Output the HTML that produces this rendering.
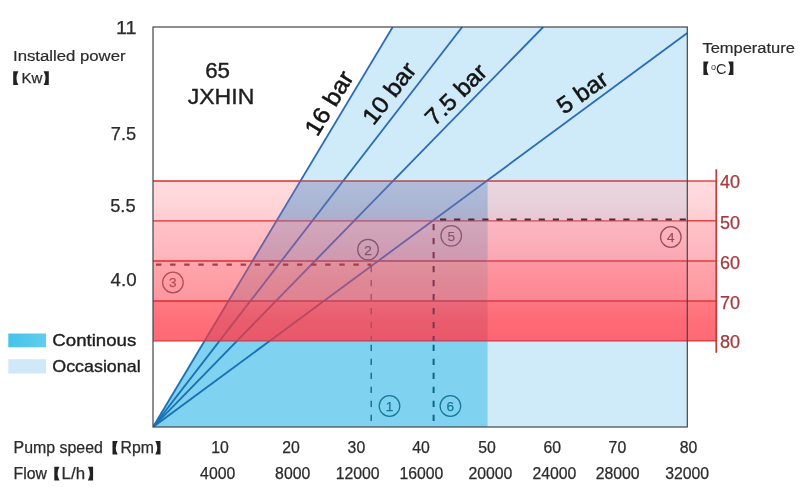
<!DOCTYPE html>
<html><head><meta charset="utf-8"><title>65 JXHIN pump chart</title>
<style>html,body{margin:0;padding:0;background:#fff;}body{width:808px;height:500px;overflow:hidden;font-family:"Liberation Sans",sans-serif;}svg{display:block;filter:blur(0.35px);}text{font-family:"Liberation Sans",sans-serif;}</style>
</head><body>
<svg width="808" height="500" viewBox="0 0 808 500">
<defs>
<clipPath id="b0"><rect x="153.0" y="181.0" width="563.3" height="39.80000000000001"/></clipPath>
<clipPath id="b1"><rect x="153.0" y="220.8" width="563.3" height="40.19999999999999"/></clipPath>
<clipPath id="b2"><rect x="153.0" y="261.0" width="563.3" height="40.0"/></clipPath>
<clipPath id="b3"><rect x="153.0" y="301.0" width="563.3" height="39.80000000000001"/></clipPath>
<clipPath id="bandsAll"><rect x="153.0" y="181.0" width="563.3" height="159.8"/></clipPath>
<clipPath id="above"><rect x="0" y="0" width="808" height="181.0"/></clipPath>
<clipPath id="below"><rect x="0" y="340.8" width="808" height="159.2"/></clipPath>
<clipPath id="plot"><rect x="153.0" y="27.0" width="534.3" height="400.0"/></clipPath>
<linearGradient id="bg" x1="0" x2="0" y1="0" y2="1"><stop offset="0" stop-color="#fff" stop-opacity="0.08"/><stop offset="0.5" stop-color="#fff" stop-opacity="0"/><stop offset="0.5" stop-color="#e8102a" stop-opacity="0"/><stop offset="1" stop-color="#e8102a" stop-opacity="0.055"/></linearGradient>
<linearGradient id="lg1" x1="0" x2="1" y1="0" y2="0"><stop offset="0" stop-color="#45c3ea"/><stop offset="1" stop-color="#63cbee"/></linearGradient>
</defs>
<rect width="808" height="500" fill="#fff"/>
<polygon points="153.0,427.0 392.7,27.0 687.3,27.0 687.3,427.0" fill="#cfeaf8"/>
<polygon points="153.0,427.0 300.42,181.0 487.6,181.0 487.6,427.0" fill="#7fd3f0"/>
<g clip-path="url(#b0)">
<rect x="153.0" y="181.0" width="563.3" height="39.80000000000001" fill="#ffd7da"/>
<polygon points="153.0,427.0 392.7,27.0 687.3,27.0 687.3,427.0" fill="#e8d2dc"/>
<polygon points="153.0,427.0 300.42,181.0 487.6,181.0 487.6,427.0" fill="#aab7d6"/>
<rect x="153.0" y="181.0" width="563.3" height="39.80000000000001" fill="url(#bg)"/>
</g>
<g clip-path="url(#b1)">
<rect x="153.0" y="220.8" width="563.3" height="40.19999999999999" fill="#ffbcc2"/>
<polygon points="153.0,427.0 392.7,27.0 687.3,27.0 687.3,427.0" fill="#fbb0ba"/>
<polygon points="153.0,427.0 300.42,181.0 487.6,181.0 487.6,427.0" fill="#cfa0b6"/>
<rect x="153.0" y="220.8" width="563.3" height="40.19999999999999" fill="url(#bg)"/>
</g>
<g clip-path="url(#b2)">
<rect x="153.0" y="261.0" width="563.3" height="40.0" fill="#ff9ea6"/>
<polygon points="153.0,427.0 392.7,27.0 687.3,27.0 687.3,427.0" fill="#fd8e99"/>
<polygon points="153.0,427.0 300.42,181.0 487.6,181.0 487.6,427.0" fill="#df8896"/>
<rect x="153.0" y="261.0" width="563.3" height="40.0" fill="url(#bg)"/>
</g>
<g clip-path="url(#b3)">
<rect x="153.0" y="301.0" width="563.3" height="39.80000000000001" fill="#ff6f79"/>
<polygon points="153.0,427.0 392.7,27.0 687.3,27.0 687.3,427.0" fill="#fd6a76"/>
<polygon points="153.0,427.0 300.42,181.0 487.6,181.0 487.6,427.0" fill="#e95c6e"/>
<rect x="153.0" y="301.0" width="563.3" height="39.80000000000001" fill="url(#bg)"/>
</g>
<g clip-path="url(#plot)"><g clip-path="url(#above)"><line x1="153.0" y1="427.0" x2="392.7" y2="27.0" stroke="#2c6cb6" stroke-width="1.8"/><line x1="153.0" y1="427.0" x2="462.2" y2="27.0" stroke="#2c6cb6" stroke-width="1.8"/><line x1="153.0" y1="427.0" x2="543.2" y2="27.0" stroke="#2c6cb6" stroke-width="1.8"/><line x1="153.0" y1="427.0" x2="687.3" y2="33.0" stroke="#2c6cb6" stroke-width="1.8"/></g><g clip-path="url(#below)"><line x1="153.0" y1="427.0" x2="392.7" y2="27.0" stroke="#1a72b6" stroke-width="1.9"/><line x1="153.0" y1="427.0" x2="462.2" y2="27.0" stroke="#1a72b6" stroke-width="1.9"/><line x1="153.0" y1="427.0" x2="543.2" y2="27.0" stroke="#1a72b6" stroke-width="1.9"/><line x1="153.0" y1="427.0" x2="687.3" y2="33.0" stroke="#1a72b6" stroke-width="1.9"/></g>
<g clip-path="url(#b0)"><line x1="153.0" y1="427.0" x2="392.7" y2="27.0" stroke="#4f6db2" stroke-width="1.8"/><line x1="153.0" y1="427.0" x2="462.2" y2="27.0" stroke="#4f6db2" stroke-width="1.8"/><line x1="153.0" y1="427.0" x2="543.2" y2="27.0" stroke="#4f6db2" stroke-width="1.8"/><line x1="153.0" y1="427.0" x2="687.3" y2="33.0" stroke="#4f6db2" stroke-width="1.8"/></g>
<g clip-path="url(#b1)"><line x1="153.0" y1="427.0" x2="392.7" y2="27.0" stroke="#6b62a6" stroke-width="1.8"/><line x1="153.0" y1="427.0" x2="462.2" y2="27.0" stroke="#6b62a6" stroke-width="1.8"/><line x1="153.0" y1="427.0" x2="543.2" y2="27.0" stroke="#6b62a6" stroke-width="1.8"/><line x1="153.0" y1="427.0" x2="687.3" y2="33.0" stroke="#6b62a6" stroke-width="1.8"/></g>
<g clip-path="url(#b2)"><line x1="153.0" y1="427.0" x2="392.7" y2="27.0" stroke="#8e5a90" stroke-width="1.8"/><line x1="153.0" y1="427.0" x2="462.2" y2="27.0" stroke="#8e5a90" stroke-width="1.8"/><line x1="153.0" y1="427.0" x2="543.2" y2="27.0" stroke="#8e5a90" stroke-width="1.8"/><line x1="153.0" y1="427.0" x2="687.3" y2="33.0" stroke="#8e5a90" stroke-width="1.8"/></g>
<g clip-path="url(#b3)"><line x1="153.0" y1="427.0" x2="392.7" y2="27.0" stroke="#b8485f" stroke-width="1.8"/><line x1="153.0" y1="427.0" x2="462.2" y2="27.0" stroke="#b8485f" stroke-width="1.8"/><line x1="153.0" y1="427.0" x2="543.2" y2="27.0" stroke="#b8485f" stroke-width="1.8"/><line x1="153.0" y1="427.0" x2="687.3" y2="33.0" stroke="#b8485f" stroke-width="1.8"/></g>
</g>
<line x1="153.0" y1="181.0" x2="300.42" y2="181.0" stroke="#dc2c2c" stroke-width="1.3"/>
<line x1="300.42" y1="181.0" x2="487.6" y2="181.0" stroke="#b24a50" stroke-width="1.3"/>
<line x1="487.6" y1="181.0" x2="687.3" y2="181.0" stroke="#d23a44" stroke-width="1.3"/>
<line x1="687.3" y1="181.0" x2="716.3" y2="181.0" stroke="#dc2c2c" stroke-width="1.3"/>
<line x1="153.0" y1="220.8" x2="276.57" y2="220.8" stroke="#dc2c2c" stroke-width="1.3"/>
<line x1="276.57" y1="220.8" x2="487.6" y2="220.8" stroke="#a8506c" stroke-width="1.3"/>
<line x1="487.6" y1="220.8" x2="687.3" y2="220.8" stroke="#d84654" stroke-width="1.3"/>
<line x1="687.3" y1="220.8" x2="716.3" y2="220.8" stroke="#dc2c2c" stroke-width="1.3"/>
<line x1="153.0" y1="261.0" x2="252.48" y2="261.0" stroke="#dc2c2c" stroke-width="1.3"/>
<line x1="252.48" y1="261.0" x2="487.6" y2="261.0" stroke="#b04a64" stroke-width="1.3"/>
<line x1="487.6" y1="261.0" x2="687.3" y2="261.0" stroke="#dc4050" stroke-width="1.3"/>
<line x1="687.3" y1="261.0" x2="716.3" y2="261.0" stroke="#dc2c2c" stroke-width="1.3"/>
<line x1="153.0" y1="301.0" x2="228.51" y2="301.0" stroke="#dc2c2c" stroke-width="1.3"/>
<line x1="228.51" y1="301.0" x2="487.6" y2="301.0" stroke="#c04056" stroke-width="1.3"/>
<line x1="487.6" y1="301.0" x2="687.3" y2="301.0" stroke="#e03848" stroke-width="1.3"/>
<line x1="687.3" y1="301.0" x2="716.3" y2="301.0" stroke="#dc2c2c" stroke-width="1.3"/>
<line x1="153.0" y1="340.8" x2="204.66" y2="340.8" stroke="#dc2c2c" stroke-width="1.3"/>
<line x1="204.66" y1="340.8" x2="487.6" y2="340.8" stroke="#c43c50" stroke-width="1.3"/>
<line x1="487.6" y1="340.8" x2="687.3" y2="340.8" stroke="#d83444" stroke-width="1.3"/>
<line x1="687.3" y1="340.8" x2="716.3" y2="340.8" stroke="#dc2c2c" stroke-width="1.3"/>
<line x1="156.0" y1="264.6" x2="371.2" y2="264.6" stroke="#ac3a4e" stroke-width="2.1" stroke-dasharray="5.4 8.7"/>
<line x1="440" y1="219.4" x2="687.3" y2="219.4" stroke="#4a2a35" stroke-width="2" stroke-dasharray="6.2 7.9"/>
<line x1="371.2" y1="266" x2="371.2" y2="340.8" stroke="#a04a62" stroke-width="1.2" stroke-dasharray="6.3 7.7"/>
<line x1="371.2" y1="344.8" x2="371.2" y2="427.0" stroke="#0f6c8e" stroke-width="1.4" stroke-dasharray="6.3 7.7"/>
<line x1="433.6" y1="224" x2="433.6" y2="340.8" stroke="#7c3654" stroke-width="2" stroke-dasharray="6.3 7.7"/>
<line x1="433.6" y1="344.8" x2="433.6" y2="427.0" stroke="#0c6486" stroke-width="2" stroke-dasharray="6.3 7.7"/>
<rect x="153.0" y="27.0" width="534.3" height="400.0" fill="none" stroke="#42464a" stroke-width="1.2"/>
<line x1="716.3" y1="169.3" x2="716.3" y2="352.8" stroke="#c0383a" stroke-width="1.7"/>
<circle cx="389.5" cy="406" r="10.3" fill="none" stroke="#15789b" stroke-width="1.25"/>
<text x="389.5" y="410.90" font-size="13.6" text-anchor="middle" fill="#15789b" stroke="#15789b" stroke-width="0.25">1</text>
<circle cx="450.4" cy="406" r="10.3" fill="none" stroke="#15789b" stroke-width="1.25"/>
<text x="450.4" y="410.90" font-size="13.6" text-anchor="middle" fill="#15789b" stroke="#15789b" stroke-width="0.25">6</text>
<circle cx="368" cy="249.6" r="10.3" fill="none" stroke="#7f5570" stroke-width="1.25"/>
<text x="368" y="254.50" font-size="13.6" text-anchor="middle" fill="#7f5570" stroke="#7f5570" stroke-width="0.25">2</text>
<circle cx="172.9" cy="282.5" r="10.3" fill="none" stroke="#b84a55" stroke-width="1.25"/>
<text x="172.9" y="287.40" font-size="13.6" text-anchor="middle" fill="#b84a55" stroke="#b84a55" stroke-width="0.25">3</text>
<circle cx="451.2" cy="235.8" r="10.3" fill="none" stroke="#8e5670" stroke-width="1.25"/>
<text x="451.2" y="240.70" font-size="13.6" text-anchor="middle" fill="#8e5670" stroke="#8e5670" stroke-width="0.25">5</text>
<circle cx="670.8" cy="237" r="10.3" fill="none" stroke="#9c4a5c" stroke-width="1.25"/>
<text x="670.8" y="241.90" font-size="13.6" text-anchor="middle" fill="#9c4a5c" stroke="#9c4a5c" stroke-width="0.25">4</text>
<text x="136.6" y="34" font-size="18" text-anchor="end" fill="#2b2b2b" stroke="#2b2b2b" stroke-width="0.25" textLength="20.6" lengthAdjust="spacingAndGlyphs">11</text>
<text x="136.2" y="140.3" font-size="18" text-anchor="end" fill="#2b2b2b" stroke="#2b2b2b" stroke-width="0.25" textLength="25.4" lengthAdjust="spacingAndGlyphs">7.5</text>
<text x="135.6" y="212.2" font-size="18" text-anchor="end" fill="#2b2b2b" stroke="#2b2b2b" stroke-width="0.25" textLength="25.4" lengthAdjust="spacingAndGlyphs">5.5</text>
<text x="136.6" y="286.2" font-size="18" text-anchor="end" fill="#2b2b2b" stroke="#2b2b2b" stroke-width="0.25" textLength="26" lengthAdjust="spacingAndGlyphs">4.0</text>
<text x="13" y="61" font-size="15.5" text-anchor="start" fill="#2b2b2b" stroke="#2b2b2b" stroke-width="0.2" textLength="112.6" lengthAdjust="spacingAndGlyphs">Installed power</text>
<path d="M13.2,71.3H18.4Q14.50,78.15 18.4,85H13.2Z" fill="#222"/>
<text x="21.5" y="83.2" font-size="15" text-anchor="start" fill="#2b2b2b" stroke="#2b2b2b" stroke-width="0.25">Kw</text>
<path d="M48.8,71.3H43.599999999999994Q47.50,78.15 43.599999999999994,85H48.8Z" fill="#222"/>
<text x="217.6" y="78" font-size="22.3" text-anchor="middle" fill="#1e1e1e" stroke="#1e1e1e" stroke-width="0.4">65</text>
<text x="221" y="103.9" font-size="22.3" text-anchor="middle" fill="#1e1e1e" stroke="#1e1e1e" stroke-width="0.4" textLength="66.5" lengthAdjust="spacingAndGlyphs">JXHIN</text>
<text x="702.4" y="53.4" font-size="15.3" text-anchor="start" fill="#2b2b2b" stroke="#2b2b2b" stroke-width="0.2" textLength="92.5" lengthAdjust="spacingAndGlyphs">Temperature</text>
<path d="M703.4,61.4H708.6Q704.70,68.2 708.6,75H703.4Z" fill="#222"/>
<text x="711" y="73.5" font-size="14.5" fill="#2b2b2b"><tspan font-size="9" dy="-4">o</tspan><tspan dy="4">C</tspan></text>
<path d="M733.4,61.4H728.1999999999999Q732.10,68.2 728.1999999999999,75H733.4Z" fill="#222"/>
<text x="720" y="188" font-size="18" text-anchor="start" fill="#a8383c" stroke="#a8383c" stroke-width="0.25">40</text>
<text x="720" y="228.6" font-size="18" text-anchor="start" fill="#a8383c" stroke="#a8383c" stroke-width="0.25">50</text>
<text x="720" y="268.6" font-size="18" text-anchor="start" fill="#a8383c" stroke="#a8383c" stroke-width="0.25">60</text>
<text x="720" y="308.6" font-size="18" text-anchor="start" fill="#a8383c" stroke="#a8383c" stroke-width="0.25">70</text>
<text x="720" y="348.4" font-size="18" text-anchor="start" fill="#a8383c" stroke="#a8383c" stroke-width="0.25">80</text>
<rect x="8.3" y="333.5" width="37.8" height="13.8" fill="url(#lg1)"/>
<rect x="8.3" y="359.2" width="37.8" height="14.3" fill="#cfe9f8"/>
<text x="52.3" y="345.7" font-size="16.2" text-anchor="start" fill="#1e1e1e" stroke="#1e1e1e" stroke-width="0.35" textLength="84" lengthAdjust="spacingAndGlyphs">Continous</text>
<text x="52.3" y="371.9" font-size="16.2" text-anchor="start" fill="#1e1e1e" stroke="#1e1e1e" stroke-width="0.35" textLength="88.3" lengthAdjust="spacingAndGlyphs">Occasional</text>
<text x="13.6" y="453" font-size="15.8" text-anchor="start" fill="#2b2b2b" stroke="#2b2b2b" stroke-width="0.25" textLength="89.3" lengthAdjust="spacingAndGlyphs">Pump speed</text>
<text x="13.6" y="478.5" font-size="15.8" text-anchor="start" fill="#2b2b2b" stroke="#2b2b2b" stroke-width="0.25">Flow</text>
<path d="M112.5,441H117.7Q113.80,447.8 117.7,454.6H112.5Z" fill="#222"/>
<text x="120.6" y="453" font-size="15.8" text-anchor="start" fill="#2b2b2b" stroke="#2b2b2b" stroke-width="0.25">Rpm</text>
<path d="M160.5,441H155.3Q159.20,447.8 155.3,454.6H160.5Z" fill="#222"/>
<path d="M54.3,466.8H59.5Q55.60,473.6 59.5,480.4H54.3Z" fill="#222"/>
<text x="61.6" y="478.5" font-size="15.8" text-anchor="start" fill="#2b2b2b" stroke="#2b2b2b" stroke-width="0.25" textLength="23.5" lengthAdjust="spacingAndGlyphs">L/h</text>
<path d="M93.1,466.8H87.89999999999999Q91.80,473.6 87.89999999999999,480.4H93.1Z" fill="#222"/>
<text x="220" y="453.4" font-size="15.8" text-anchor="middle" fill="#2b2b2b" stroke="#2b2b2b" stroke-width="0.25">10</text>
<text x="291" y="453.4" font-size="15.8" text-anchor="middle" fill="#2b2b2b" stroke="#2b2b2b" stroke-width="0.25">20</text>
<text x="356.4" y="453.4" font-size="15.8" text-anchor="middle" fill="#2b2b2b" stroke="#2b2b2b" stroke-width="0.25">30</text>
<text x="421" y="453.4" font-size="15.8" text-anchor="middle" fill="#2b2b2b" stroke="#2b2b2b" stroke-width="0.25">40</text>
<text x="487" y="453.4" font-size="15.8" text-anchor="middle" fill="#2b2b2b" stroke="#2b2b2b" stroke-width="0.25">50</text>
<text x="552.3" y="453.4" font-size="15.8" text-anchor="middle" fill="#2b2b2b" stroke="#2b2b2b" stroke-width="0.25">60</text>
<text x="617.4" y="453.4" font-size="15.8" text-anchor="middle" fill="#2b2b2b" stroke="#2b2b2b" stroke-width="0.25">70</text>
<text x="688.6" y="453.4" font-size="15.8" text-anchor="middle" fill="#2b2b2b" stroke="#2b2b2b" stroke-width="0.25">80</text>
<text x="217.7" y="479" font-size="15.8" text-anchor="middle" fill="#2b2b2b" stroke="#2b2b2b" stroke-width="0.25">4000</text>
<text x="292.7" y="479" font-size="15.8" text-anchor="middle" fill="#2b2b2b" stroke="#2b2b2b" stroke-width="0.25">8000</text>
<text x="357.7" y="479" font-size="15.8" text-anchor="middle" fill="#2b2b2b" stroke="#2b2b2b" stroke-width="0.25">12000</text>
<text x="421.4" y="479" font-size="15.8" text-anchor="middle" fill="#2b2b2b" stroke="#2b2b2b" stroke-width="0.25">16000</text>
<text x="490.4" y="479" font-size="15.8" text-anchor="middle" fill="#2b2b2b" stroke="#2b2b2b" stroke-width="0.25">20000</text>
<text x="554.4" y="479" font-size="15.8" text-anchor="middle" fill="#2b2b2b" stroke="#2b2b2b" stroke-width="0.25">24000</text>
<text x="617.7" y="479" font-size="15.8" text-anchor="middle" fill="#2b2b2b" stroke="#2b2b2b" stroke-width="0.25">28000</text>
<text x="687.2" y="479" font-size="15.8" text-anchor="middle" fill="#2b2b2b" stroke="#2b2b2b" stroke-width="0.25">32000</text>
<text transform="translate(317.3,137.6) rotate(-58.5)" font-size="23.5" fill="#141414" stroke="#141414" stroke-width="0.5" textLength="71" lengthAdjust="spacingAndGlyphs">16 bar</text>
<text transform="translate(373.6,126.2) rotate(-52)" font-size="23.5" fill="#141414" stroke="#141414" stroke-width="0.5" textLength="71" lengthAdjust="spacingAndGlyphs">10 bar</text>
<text transform="translate(434.5,127) rotate(-44.8)" font-size="23.5" fill="#141414" stroke="#141414" stroke-width="0.5" textLength="76" lengthAdjust="spacingAndGlyphs">7.5 bar</text>
<text transform="translate(564,114.9) rotate(-35)" font-size="23.5" fill="#141414" stroke="#141414" stroke-width="0.5" textLength="56" lengthAdjust="spacingAndGlyphs">5 bar</text>
</svg>
</body></html>
